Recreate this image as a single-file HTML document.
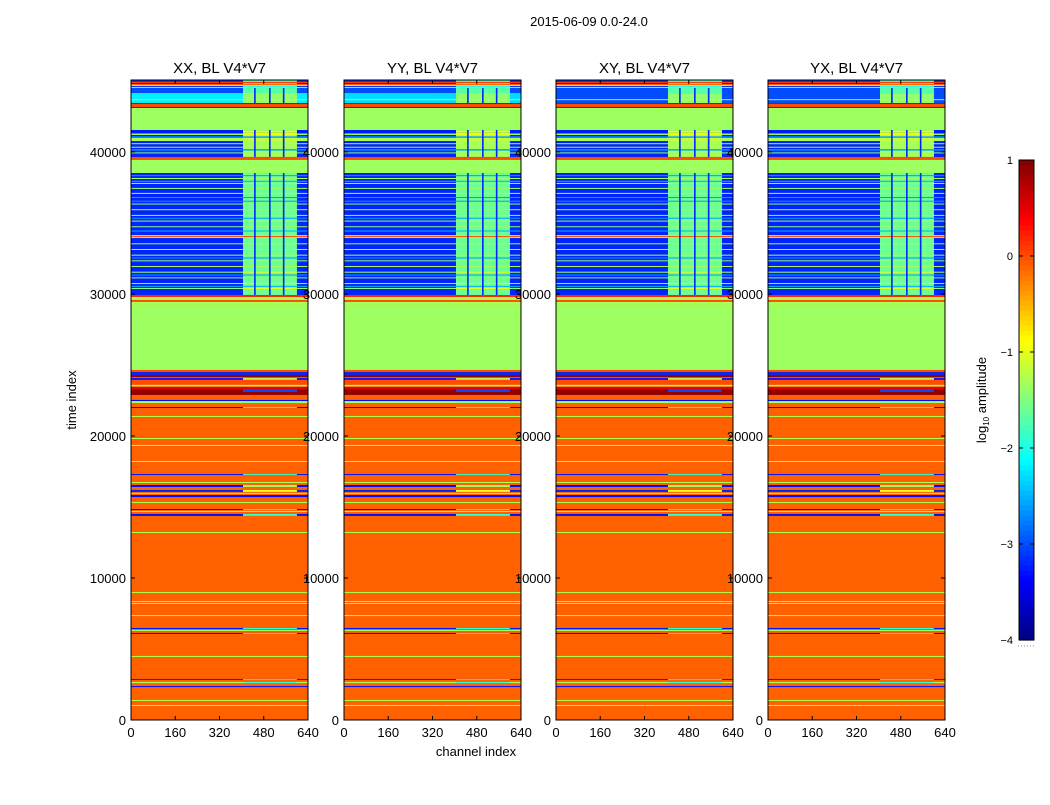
<!DOCTYPE html>
<html><head><meta charset="utf-8">
<style>
body{margin:0;background:#fff;font-family:"Liberation Sans",sans-serif;}
svg text{font-family:"Liberation Sans","DejaVu Sans",sans-serif;}
</style></head>
<body>
<svg id="chart" width="1050" height="800" xmlns="http://www.w3.org/2000/svg">
<rect width="1050" height="800" fill="#fff"/>
<text x="589" y="26" font-size="13" text-anchor="middle">2015-06-09 0.0-24.0</text>
<text x="476" y="756" font-size="13" text-anchor="middle">channel index</text>
<text x="76" y="400" font-size="13" text-anchor="middle" transform="rotate(-90 76 400)">time index</text>
<g id="plots"></g>
<g id="cbar"></g>
</svg>
<script>
const panelTitles=["XX, BL V4*V7","YY, BL V4*V7","XY, BL V4*V7","YX, BL V4*V7"];
const xTicks=[0,160,320,480,640];
const yTicks=[0,10000,20000,30000,40000];
const cbTicks=[1,0,-1,-2,-3,-4];
// per panel value of the cyan/blue block near top (left channels)
const topBlockVal=[-2.2,-2.3,-3.0,-3.0];
const baseVal=-0.1;
// bands: [tStart, tEnd, valueLeft, valueRight(null = same)]
const bands=[
[44930,45070,-3.1,-1.8],[44860,44930,0.1,null],[44790,44860,-3.2,-1.8],
[44650,44720,-1.3,null],[44510,44580,-1.3,null],[44580,44650,-3.1,-1.9],[44150,44510,-3.0,-1.7],
[43450,44150,"top",-1.4],[43660,43720,-1.3,-1.2],[43380,43450,-3.1,null],[43170,43380,0.0,null],[43100,43170,-3.2,null],
[41550,43100,-1.35,null],
[39650,41550,-3.2,-1.3],[40770,40990,-1.3,-1.2],[41200,41300,-1.3,-0.9],[41380,41480,-3.3,-0.9],[40300,40370,-1.4,null],[39900,39970,-1.4,null],[40550,40620,-1.2,null],
[41000,41100,-2.6,null],[40100,40200,-2.6,null],
[39440,39650,0.0,null],[38520,39440,-1.35,null],
[29930,38520,-3.2,-1.6],
[38300,38370,-2.6,null],[37900,37970,-2.5,null],[36500,36570,-2.6,null],[35300,35370,-2.6,null],[34400,34470,-2.5,null],[32500,32570,-2.6,null],[31300,31370,-2.6,null],[30500,30570,-2.5,null],
[38100,38170,-1.3,null],[37750,37820,-1.3,null],[37400,37470,-1.4,null],[37050,37120,-1.3,null],[36760,36830,0.0,null],
[36300,36370,-1.4,null],[35900,35970,-1.3,null],[35500,35570,-1.4,null],[35100,35170,-1.3,null],[34700,34770,-1.4,null],
[33940,34150,-1.3,-1.4],[34020,34080,0.0,null],[33500,33570,-1.3,null],[33100,33170,-1.4,null],[32700,32770,-1.3,null],
[32300,32370,-1.4,null],[31900,31970,-1.3,null],[31500,31570,-1.3,-1.0],[31100,31170,-1.4,null],[30700,30770,-1.3,-1.0],[30350,30420,-1.4,-1.0],
[29790,29930,0.2,null],[29580,29790,-1.3,null],[29440,29580,0.0,null],[29230,29440,-1.3,null],
[24650,29230,-1.35,null],
[24500,24650,0.0,null],[24300,24500,-3.2,null],[24150,24300,0.9,null],[24080,24150,0.0,null],[23950,24080,-3.3,-1.2],
[23600,23950,0.0,null],[23500,23600,-1.3,null],[23300,23450,0.5,null],[23100,23300,0.9,-3.0],[22890,23100,0.9,null],
[22460,22540,-3.3,null],[22320,22460,-1.3,-1.5],[21970,22040,-3.3,-1.8],[21340,21410,-1.3,null],
[19790,19860,-1.3,null],[19300,19370,-1.3,null],[18170,18240,-1.3,null],[17250,17320,-3.3,-1.8],[16690,16760,-1.3,null],
[16410,16550,-3.3,-1.3],[16060,16200,-3.2,-1.0],[15920,15990,-1.3,null],[15700,15840,-3.3,null],[15280,15350,-1.3,null],
[14790,14860,-3.3,-1.8],[14650,14720,-1.3,null],[14370,14510,-3.3,-1.9],[13170,13240,-1.3,null],
[8940,9010,-1.3,null],[8170,8380,-1.3,null],[8240,8310,-0.1,null],[7320,7390,-1.3,null],
[6410,6480,-3.3,-1.9],[6270,6340,-1.3,null],[6060,6130,-3.3,-2.0],[4440,4510,-1.3,null],
[2820,2890,-3.2,-2.1],[2600,2680,-1.3,-1.9],[2320,2390,-3.3,null],[1340,1410,-1.3,null],[990,1060,-1.3,null]
];
// right-region channel range and vertical blue stripes (channel centres)
const rightRange=[405,600];
const stripeChannels=[448,502,552];
const stripeZones=[[29930,38520],[39650,41550],[43450,44510]];
const panelX=[131,344,556,768];
const PW=177, TOP=80, BOT=720, TMAX=45070;
function jet(v){const x=Math.max(0,Math.min(1,(v+4)/5));
 const c=f=>Math.round(255*Math.max(0,Math.min(1,f)));
 return `rgb(${c(1.5-Math.abs(4*x-3))},${c(1.5-Math.abs(4*x-2))},${c(1.5-Math.abs(4*x-1))})`;}
const NS="http://www.w3.org/2000/svg";
function el(tag,attrs,parent){const e=document.createElementNS(NS,tag);for(const k in attrs)e.setAttribute(k,attrs[k]);parent.appendChild(e);return e;}
const yS=t=>BOT-(t/TMAX)*(BOT-TOP);
const plots=document.getElementById('plots');
panelX.forEach((px,pi)=>{
 const xS=ch=>px+ch/640*PW;
 const g=el('g',{},plots);
 
 
 const bg=el('rect',{x:px,y:TOP,width:PW,height:BOT-TOP,fill:jet(baseVal)},g);
 
 
 bands.forEach(b=>{
  const lv=b[2]==="top"?topBlockVal[pi]:b[2];
  const y1=yS(b[1]),h=Math.max(1,yS(b[0])-y1);
  const r=el('rect',{x:px,y:y1,width:PW,height:h,fill:jet(lv)},g);
  
  
  if(b[3]!==null){
   const r2=el('rect',{x:xS(rightRange[0]),y:y1,width:xS(rightRange[1])-xS(rightRange[0]),height:h,fill:jet(b[3])},g);
   
   
  }
 });
 stripeZones.forEach(z=>stripeChannels.forEach(ch=>{
  const s=el('rect',{x:xS(ch)-0.8,y:yS(z[1]),width:1.6,height:yS(z[0])-yS(z[1]),fill:jet(-3.2)},g);
  
  
 }));
 const fr=el('rect',{x:px,y:TOP,width:PW,height:BOT-TOP,fill:'none',stroke:'#000','stroke-width':1},g);
 
 
 const tt=el('text',{x:px+PW/2,y:73,'font-size':15,'text-anchor':'middle'},g);tt.textContent=panelTitles[pi];
 
 
 xTicks.forEach(v=>{const x=xS(v);
  el('line',{x1:x,x2:x,y1:BOT,y2:BOT-4,stroke:'#000'},g);
  el('line',{x1:x,x2:x,y1:TOP,y2:TOP+4,stroke:'#000'},g);
  const t=el('text',{x:x,y:BOT+17,'font-size':13,'text-anchor':'middle'},g);t.textContent=v;
  
  
 });
 yTicks.forEach(v=>{const y=yS(v);
  el('line',{x1:px,x2:px+4,y1:y,y2:y,stroke:'#000'},g);
  el('line',{x1:px+PW,x2:px+PW-4,y1:y,y2:y,stroke:'#000'},g);
  const t=el('text',{x:px-5,y:y+5,'font-size':13,'text-anchor':'end'},g);t.textContent=v;
  
  
 });
});
// colorbar
const cb=document.getElementById('cbar');


const CBX=1019,CBW=15,CBT=160,CBB=640;
const cbY=v=>CBB-(v+4)/5*(CBB-CBT);
for(let i=0;i<96;i++){const v0=-4+i*5/96,v1=-4+(i+1)*5/96;
 el('rect',{x:CBX,y:cbY(v1),width:CBW,height:cbY(v0)-cbY(v1)+0.6,fill:jet((v0+v1)/2)},cb);}
el('rect',{x:CBX,y:CBT,width:CBW,height:CBB-CBT,fill:'none',stroke:'#000'},cb);
el('line',{x1:CBX-1,x2:CBX+CBW,y1:CBB+6,y2:CBB+6,stroke:'#888','stroke-dasharray':'1,2'},cb);
cbTicks.forEach(v=>{const y=cbY(v);
 el('line',{x1:CBX,x2:CBX+4,y1:y,y2:y,stroke:'#000'},cb);
 el('line',{x1:CBX+CBW,x2:CBX+CBW-4,y1:y,y2:y,stroke:'#000'},cb);
 const t=el('text',{x:1013,y:y+4,'font-size':11,'text-anchor':'end'},cb);t.textContent=v<0?'\u2212'+(-v):v;
 
 
});
const lab=el('text',{x:986,y:400,'font-size':13,'text-anchor':'middle',transform:'rotate(-90 986 400)'},cb);
lab.innerHTML='log<tspan font-size="8" dy="3">10</tspan><tspan dy="-3"> amplitude</tspan>';


</script>
</body></html>
